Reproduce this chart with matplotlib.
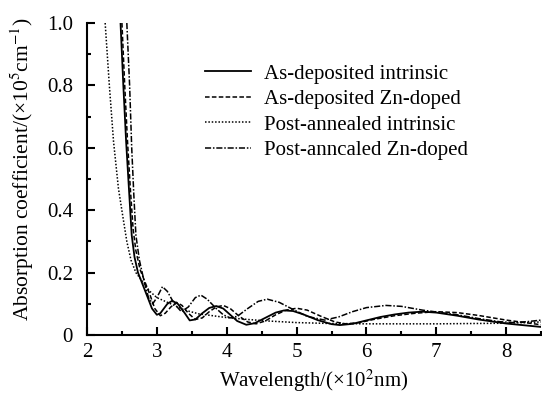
import matplotlib
matplotlib.use('agg')
import matplotlib.pyplot as plt
from matplotlib.ticker import MultipleLocator, FuncFormatter

# As-deposited intrinsic (solid)
x_ad_int = [2.48, 2.52, 2.56, 2.60, 2.64, 2.68, 2.73, 2.80, 2.87, 2.93, 3.00, 3.05, 3.10, 3.15,
            3.22, 3.30, 3.40, 3.47, 3.55, 3.65, 3.75, 3.85, 3.95, 4.05, 4.15, 4.28, 4.40, 4.55,
            4.70, 4.82, 4.95, 5.10, 5.30, 5.50, 5.62, 5.80, 6.00, 6.20, 6.40, 6.60, 6.80, 7.00,
            7.30, 7.60, 8.00, 8.50]
y_ad_int = [1.0, 0.80, 0.62, 0.47, 0.32, 0.25, 0.20, 0.16, 0.12, 0.085, 0.065, 0.07, 0.085, 0.10,
            0.11, 0.10, 0.07, 0.047, 0.05, 0.07, 0.087, 0.093, 0.085, 0.065, 0.045, 0.033, 0.038, 0.055,
            0.072, 0.079, 0.077, 0.066, 0.048, 0.035, 0.032, 0.036, 0.047, 0.058, 0.066, 0.072, 0.075, 0.072,
            0.062, 0.05, 0.037, 0.026]

# As-deposited Zn-doped (dashed)
x_ad_zn = [2.50, 2.54, 2.58, 2.62, 2.66, 2.70, 2.76, 2.83, 2.90, 2.97, 3.05, 3.12, 3.20, 3.28,
           3.36, 3.45, 3.55, 3.65, 3.75, 3.85, 3.95, 4.05, 4.18, 4.30, 4.42, 4.55, 4.70, 4.85,
           5.00, 5.15, 5.35, 5.55, 5.70, 5.90, 6.10, 6.40, 6.70, 7.00, 7.30, 7.60, 8.00, 8.50]
y_ad_zn = [1.0, 0.80, 0.62, 0.47, 0.34, 0.27, 0.21, 0.17, 0.13, 0.085, 0.062, 0.07, 0.09, 0.105,
           0.095, 0.07, 0.05, 0.055, 0.075, 0.09, 0.095, 0.085, 0.06, 0.042, 0.036, 0.045, 0.065, 0.08,
           0.086, 0.08, 0.06, 0.042, 0.036, 0.04, 0.05, 0.062, 0.07, 0.075, 0.072, 0.063, 0.048, 0.033]

# Post-annealed intrinsic (dotted)
x_pa_int = [2.26, 2.32, 2.38, 2.45, 2.52, 2.57, 2.63, 2.70, 2.80, 2.90, 3.00, 3.20, 3.40, 3.60,
            3.80, 4.00, 4.30, 4.60, 5.00, 5.50, 6.00, 7.00, 8.00, 8.50]
y_pa_int = [1.0, 0.80, 0.62, 0.47, 0.37, 0.30, 0.24, 0.20, 0.17, 0.14, 0.12, 0.10, 0.08, 0.068,
            0.062, 0.056, 0.05, 0.045, 0.04, 0.037, 0.036, 0.036, 0.038, 0.042]

# Post-anncaled Zn-doped (dash-dot)
x_pa_zn = [2.57, 2.61, 2.64, 2.67, 2.70, 2.75, 2.82, 2.88, 2.94, 3.00, 3.08, 3.15, 3.25, 3.35,
           3.45, 3.55, 3.63, 3.72, 3.85, 3.95, 4.05, 4.15, 4.30, 4.45, 4.58, 4.75, 4.95, 5.15,
           5.40, 5.60, 5.80, 6.00, 6.28, 6.50, 6.80, 7.00, 7.30, 7.60, 7.90, 8.10, 8.30, 8.50]
y_pa_zn = [1.0, 0.80, 0.60, 0.45, 0.32, 0.24, 0.17, 0.12, 0.10, 0.12, 0.155, 0.14, 0.10, 0.075,
           0.09, 0.12, 0.128, 0.115, 0.085, 0.065, 0.055, 0.06, 0.085, 0.108, 0.115, 0.105, 0.082, 0.06,
           0.048, 0.058, 0.075, 0.088, 0.095, 0.092, 0.08, 0.074, 0.065, 0.053, 0.043, 0.04, 0.043, 0.048]

labels = ['As-deposited intrinsic', 'As-deposited Zn-doped',
          'Post-annealed intrinsic', 'Post-anncaled Zn-doped']

plt.rcParams['font.family'] = ['Liberation Serif', 'DejaVu Serif']
plt.rcParams['mathtext.fontset'] = 'stix'
plt.rcParams['font.size'] = 15

fig = plt.figure(figsize=(5.42, 3.97), dpi=100)
ax = fig.add_axes([0.1605, 0.156, 0.838, 0.786])

ax.plot(x_ad_int, y_ad_int, color='black', linewidth=1.3, linestyle='-', label=labels[0])
ax.plot(x_ad_zn, y_ad_zn, color='black', linewidth=1.1, linestyle=(0, (3, 1.5)), label=labels[1])
ax.plot(x_pa_int, y_pa_int, color='black', linewidth=1.1, linestyle=(0, (1, 1.2)), label=labels[2])
ax.plot(x_pa_zn, y_pa_zn, color='black', linewidth=1.1, linestyle=(0, (4, 1.2, 1, 1.2)), label=labels[3])

ax.set_xlim(2, 8.5)
ax.set_ylim(0, 1.0)
ax.xaxis.set_major_locator(MultipleLocator(1))
ax.xaxis.set_minor_locator(MultipleLocator(0.5))
ax.yaxis.set_major_locator(MultipleLocator(0.2))
ax.yaxis.set_minor_locator(MultipleLocator(0.1))
ax.xaxis.set_major_formatter(FuncFormatter(lambda v, p: '%d' % round(v)))
ax.yaxis.set_major_formatter(FuncFormatter(lambda v, p: '0' if abs(v) < 1e-9 else '%.1f' % v))
ax.tick_params(which='both', direction='in', width=1.5)
ax.tick_params(which='major', length=6, pad=6)
ax.tick_params(axis='y', which='major', pad=10)
ax.tick_params(which='minor', length=3)
ax.spines['top'].set_visible(False)
ax.spines['right'].set_visible(False)
ax.spines['left'].set_linewidth(1.5)
ax.spines['bottom'].set_linewidth(1.5)

ax.set_xlabel('Wavelength/(×10$^{2}$nm)', labelpad=4)
ax.set_ylabel('Absorption coefficient/(×10$^{5}$cm$^{-1}$)', fontsize=15.5)
ax.yaxis.set_label_coords(-0.112, 0.53)

ax.legend(loc='upper left', bbox_to_anchor=(0.242, 0.895), frameon=False,
          handlelength=2.2, handletextpad=0.6, labelspacing=0.28, borderaxespad=0)

fig.savefig('out.png', dpi=100)
